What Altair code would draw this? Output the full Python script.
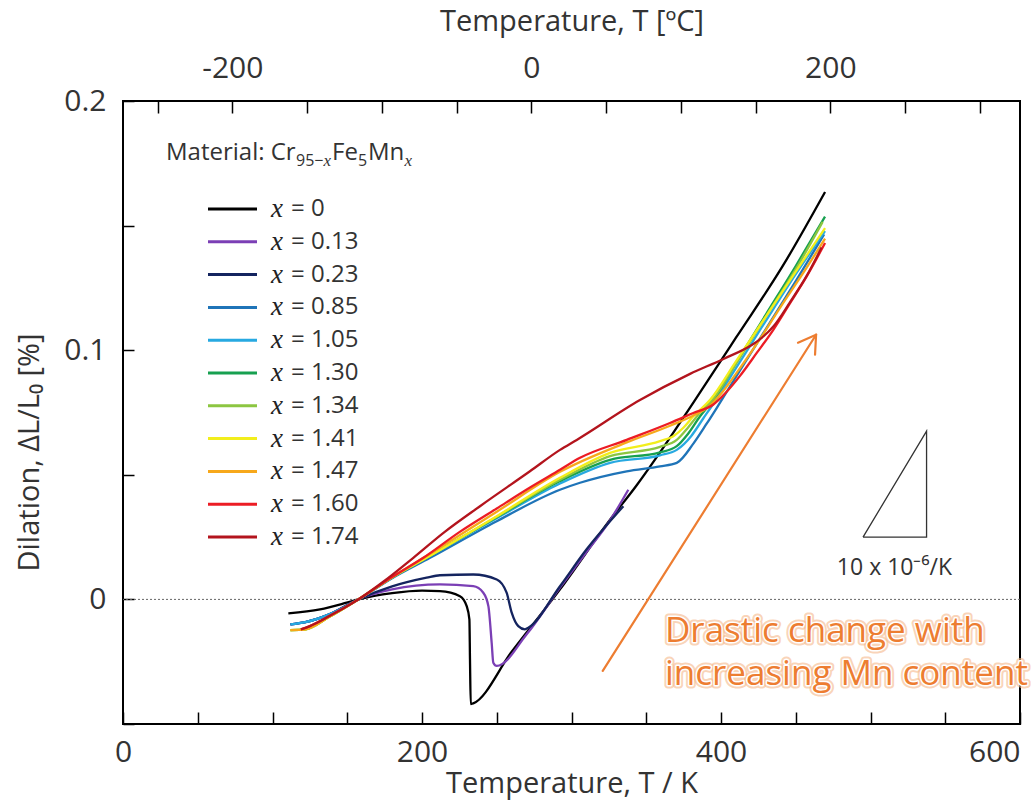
import altair as alt
import pandas as pd

# ---------------- data ----------------
series_labels = ["x = 0", "x = 0.13", "x = 0.23", "x = 0.85", "x = 1.05", "x = 1.30",
                 "x = 1.34", "x = 1.41", "x = 1.47", "x = 1.60", "x = 1.74"]
legend_rest = ["= 0", "= 0.13", "= 0.23", "= 0.85", "= 1.05", "= 1.30",
               "= 1.34", "= 1.41", "= 1.47", "= 1.60", "= 1.74"]
series_colors = ["#000000", "#7b3fb5", "#14245f", "#1f74b8", "#27a9e1", "#17a050",
                 "#8cc641", "#f2ee1c", "#f7a81b", "#ec1c24", "#b3141d"]

T_000 = [110.6, 131.8, 149.6, 157.4, 180, 200, 212, 225.4, 229.9, 231.7, 232.1, 232.6, 234.3,
         260, 292.3, 325.8, 343.6, 359.2, 381.5, 410, 441, 469.6]
D_000 = [-0.0056, -0.004, -0.0013, 0, 0.0025, 0.0035, 0.0033, 0.0013, -0.0027, -0.008, -0.024,
         -0.042, -0.0417, -0.021, 0.004, 0.032, 0.0458, 0.059, 0.079, 0.1050, 0.1335, 0.1635]

T_013 = [112, 122, 138, 157.4, 180, 212, 234.3, 241, 244.4, 246.6, 247.7, 250, 270, 292.3, 310, 325, 338]
D_013 = [-0.010, -0.0091, -0.006, 0, 0.004, 0.006, 0.0053, 0.0027, -0.0027, -0.0174, -0.0254,
         -0.0267, -0.014, 0.0047, 0.019, 0.031, 0.044]

T_023 = [112, 122, 138, 157.4, 180, 203.1, 212, 234.3, 250, 256.6, 260, 264.4, 268.9, 271.1, 292.3, 310, 334.7]
D_023 = [-0.010, -0.0091, -0.006, 0, 0.0052, 0.0087, 0.0097, 0.0100, 0.0080, 0.0027, -0.0053,
         -0.0107, -0.0120, -0.0114, 0.0053, 0.0200, 0.0374]

T_085 = [112, 122, 138, 157.4, 180, 205.4, 250, 292.3, 305.7, 336.9, 359.2, 370.4, 381.5, 390.4,
         397.1, 410, 430, 450, 469]
D_085 = [-0.010, -0.0091, -0.006, 0, 0.0085, 0.0167, 0.0314, 0.044, 0.0468, 0.0514, 0.0534, 0.0548,
         0.0625, 0.0705, 0.0768, 0.0893, 0.1085, 0.1277, 0.1465]

T_105 = [112, 122, 138, 157.4, 180, 203, 250, 292.3, 325.8, 359.2, 370.4, 380, 388, 396, 410, 430, 450, 469.6]
D_105 = [-0.010, -0.0091, -0.006, 0, 0.0088, 0.0167, 0.0326, 0.0465, 0.0548, 0.0578, 0.0600, 0.0655,
         0.0725, 0.0795, 0.0928, 0.1118, 0.1305, 0.1478]

T_130 = [112, 122, 138, 157.4, 180, 203, 250, 292.3, 325.8, 359.2, 370.4, 378, 386, 394.9, 410, 430, 450, 469.6]
D_130 = [-0.0123, -0.012, -0.007, 0, 0.0088, 0.0167, 0.0330, 0.0475, 0.0560, 0.0590, 0.0615, 0.0665,
         0.0735, 0.080, 0.0948, 0.1143, 0.1338, 0.1536]

T_134 = [112, 122, 138, 157.4, 180, 203, 250, 292.3, 325.8, 359.2, 370.4, 378, 386, 394.9, 410, 430, 450, 468]
D_134 = [-0.0123, -0.012, -0.007, 0, 0.0088, 0.0167, 0.0332, 0.0480, 0.0575, 0.0612, 0.0640, 0.0690,
         0.0750, 0.0805, 0.0945, 0.1135, 0.1325, 0.1515]

T_141 = [112, 122, 138, 157.4, 180, 203, 250, 292.3, 325.8, 359.2, 368.1, 375, 381.5, 392.6, 410, 430, 450, 469.6]
D_141 = [-0.0123, -0.012, -0.007, 0, 0.0089, 0.0167, 0.0334, 0.0488, 0.0588, 0.0635, 0.0655, 0.0690,
         0.0735, 0.080, 0.0955, 0.1135, 0.1315, 0.149]

T_147 = [112, 122, 138, 157.4, 180, 200, 250, 292.3, 336.9, 365.9, 381.5, 392, 400, 410, 425, 440, 455, 469.6]
D_147 = [-0.0123, -0.012, -0.007, 0, 0.009, 0.0163, 0.0352, 0.0512, 0.0630, 0.0697, 0.0738, 0.0775,
         0.0825, 0.0905, 0.1035, 0.1175, 0.131, 0.1448]

T_160 = [119, 125, 138, 157.4, 180, 200.9, 225, 250, 272, 292.3, 305.7, 336.9, 365.9, 381.5, 394.9,
         403, 412.7, 423.9, 435, 446.2, 457.3, 469.6]
D_160 = [-0.012, -0.0107, -0.0067, 0, 0.009, 0.0167, 0.027, 0.0365, 0.0448, 0.052, 0.0568, 0.064,
         0.0708, 0.0748, 0.0782, 0.0828, 0.0897, 0.0989, 0.1082, 0.1189, 0.1296, 0.143]

T_174 = [119, 125, 138, 157.4, 175, 194.2, 215, 238.8, 272.2, 292.3, 303.5, 345.8, 379.3, 401.6,
         421.6, 428.3, 435, 446.2, 457.3, 467.3]
D_174 = [-0.012, -0.0107, -0.0067, 0, 0.0075, 0.0167, 0.027, 0.0374, 0.0514, 0.060, 0.064, 0.0800,
         0.0905, 0.0965, 0.1025, 0.1055, 0.1095, 0.1193, 0.1298, 0.1412]

series_T = [T_000, T_013, T_023, T_085, T_105, T_130, T_134, T_141, T_147, T_160, T_174]
series_D = [D_000, D_013, D_023, D_085, D_105, D_130, D_134, D_141, D_147, D_160, D_174]

# axis ticks
kelvin_ticks = [0, 50, 100, 150, 200, 250, 300, 350, 400, 450, 500, 550, 600]
celsius_ticks = [-250, -200, -150, -100, -50, 0, 50, 100, 150, 200, 250, 300]
dil_ticks = [-0.05, 0, 0.05, 0.1, 0.15, 0.2]

# annotations (data coordinates)
tri_T = [495, 537.5, 537.5, 495]
tri_D = [0.025, 0.025, 0.0675, 0.025]
slope_text = "10 x 10\u207b\u2076/K"
slope_text_pos = (516, 0.0125)
arrow_T = [320.9, 463.6, 451.5, 462.9]      # tail, tip, arm1, arm2
arrow_D = [-0.0287, 0.1062, 0.1030, 0.0982]
note_lines = ["Drastic change with", "increasing Mn content"]
note_T = [362.5, 362.5]
note_D = [-0.0128, -0.0300]

FONT = "Open Sans"
TXT = "#333333"
ORANGE = "#ED7D31"

# ---------------- frames ----------------
rows = []
for lab, Ts, Ds in zip(series_labels, series_T, series_D):
    for t, d in zip(Ts, Ds):
        rows.append({"series": lab, "T": t, "D": d})
df = pd.DataFrame(rows)

xsc = alt.Scale(domain=[0, 600], nice=False, zero=False)
ysc = alt.Scale(domain=[-0.05, 0.2], nice=False, zero=False)

y_label_expr = ("abs(datum.value) < 1e-9 ? '0' : abs(datum.value - 0.1) < 1e-9 ? '0.1' : "
                "abs(datum.value - 0.2) < 1e-9 ? '0.2' : ''")

x_enc = alt.X("T:Q", scale=xsc, axis=alt.Axis(
    values=kelvin_ticks, labelExpr="datum.value % 200 == 0 ? datum.value + '' : ''",
    labelAlign={"condition": {"test": "datum.value == 600", "value": "right"}, "value": "center"},
    tickSize=12, offset=-12, domain=False, grid=False, tickColor="black", tickWidth=1.5,
    labelPadding=13, labelFontSize=30, labelFont=FONT, labelColor=TXT,
    title="Temperature, T / K", titleFontSize=29, titleFont=FONT, titleFontWeight="normal",
    titleColor=TXT, titlePadding=2, labelFlush=False))
y_enc = alt.Y("D:Q", scale=ysc, axis=alt.Axis(
    values=dil_ticks, labelExpr=y_label_expr,
    tickSize=11, offset=-11, domain=False, grid=False, tickColor="black", tickWidth=1.5,
    labelPadding=17, labelFontSize=30, labelFont=FONT, labelColor=TXT,
    title="Dilation, \u0394L/L\u2080 [%]", titleFontSize=29, titleFont=FONT,
    titleFontWeight="normal", titleColor=TXT, titleX=-105, titleY=351,
    titleBaseline="middle", labelFlush=False))

zero_line = alt.Chart(pd.DataFrame({"D": [0]})).mark_rule(
    color="#666666", strokeDash=[2, 2], strokeWidth=1).encode(y=alt.Y("D:Q", scale=ysc))

lines = alt.Chart(df).mark_line(strokeWidth=2.3, interpolate="monotone").encode(
    x=x_enc, y=y_enc,
    color=alt.Color("series:N", scale=alt.Scale(domain=series_labels, range=series_colors), legend=None),
)

tri_df = pd.DataFrame({"T": tri_T, "D": tri_D, "o": list(range(len(tri_T)))})
triangle = alt.Chart(tri_df).mark_line(color="#333333", strokeWidth=1.3).encode(
    x=alt.X("T:Q", scale=xsc), y=alt.Y("D:Q", scale=ysc), order="o:Q")
slope_lbl = alt.Chart(pd.DataFrame({"T": [slope_text_pos[0]], "D": [slope_text_pos[1]], "t": [slope_text]})).mark_text(
    font=FONT, fontSize=23, color=TXT, align="center", baseline="middle").encode(
    x=alt.X("T:Q", scale=xsc), y=alt.Y("D:Q", scale=ysc), text="t:N")

arrow_df = pd.DataFrame({
    "T": [arrow_T[0], arrow_T[2], arrow_T[3]],
    "D": [arrow_D[0], arrow_D[2], arrow_D[3]],
    "T2": [arrow_T[1]] * 3,
    "D2": [arrow_D[1]] * 3,
})
arrow = alt.Chart(arrow_df).mark_rule(color=ORANGE, strokeWidth=2.2, strokeCap="round").encode(
    x=alt.X("T:Q", scale=xsc), y=alt.Y("D:Q", scale=ysc), x2="T2:Q", y2="D2:Q")

note_df = pd.DataFrame({"T": note_T, "D": note_D, "t": note_lines})
note_glow = alt.Chart(note_df).mark_text(
    font=FONT, fontSize=35, align="left", baseline="middle", fill="#F6B88A",
    stroke="#F6B88A", strokeWidth=7, strokeOpacity=0.6, strokeJoin="round").encode(
    x=alt.X("T:Q", scale=xsc), y=alt.Y("D:Q", scale=ysc), text="t:N")
note_white = alt.Chart(note_df).mark_text(
    font=FONT, fontSize=35, align="left", baseline="middle", fill="white",
    stroke="white", strokeWidth=3, strokeJoin="round").encode(
    x=alt.X("T:Q", scale=xsc), y=alt.Y("D:Q", scale=ysc), text="t:N")
note_fill = alt.Chart(note_df).mark_text(
    font=FONT, fontSize=35, align="left", baseline="middle", color=ORANGE).encode(
    x=alt.X("T:Q", scale=xsc), y=alt.Y("D:Q", scale=ysc), text="t:N")

main = alt.layer(zero_line, lines, triangle, slope_lbl, arrow, note_glow, note_white, note_fill)

# top Celsius axis
cel = alt.Chart(pd.DataFrame({"C": celsius_ticks})).mark_point(opacity=0).encode(
    x=alt.X("C:Q", scale=alt.Scale(domain=[-273.15, 326.85], nice=False, zero=False),
            axis=alt.Axis(orient="top", values=celsius_ticks,
                          labelExpr="datum.value % 200 == 0 ? datum.value + '' : ''",
                          tickSize=12, offset=-12, domain=False, grid=False, tickColor="black",
                          tickWidth=1.5, labelPadding=18, labelFontSize=30, labelFont=FONT,
                          labelColor=TXT, title="Temperature, T [\u00baC]", titleFontSize=29,
                          titleFont=FONT, titleFontWeight="normal", titleColor=TXT,
                          titlePadding=17, labelFlush=False)))

# custom legend
leg_df = pd.DataFrame({"idx": list(range(len(series_labels))), "rest": legend_rest,
                       "col": series_colors})
ley = alt.Y("idx:Q", scale=alt.Scale(domain=[0, 10], range=[108, 436]), axis=None)
leg_line = alt.Chart(leg_df).mark_rule(strokeWidth=3).encode(
    x=alt.value(85), x2=alt.value(134), y=ley, color=alt.Color("col:N", scale=None))
leg_x = alt.Chart(leg_df).mark_text(font="Liberation Serif", fontStyle="italic", fontSize=27,
                                    align="left", baseline="middle", color="#222222").encode(
    x=alt.value(148), y=ley, text=alt.value("x"))
leg_txt = alt.Chart(leg_df).mark_text(font=FONT, fontSize=24, align="left", baseline="middle",
                                      color=TXT).encode(x=alt.value(168), y=ley, text="rest:N")
legend = alt.layer(leg_line, leg_x, leg_txt)

# "Material: Cr95-xFe5Mnx" heading made of pieces
one = pd.DataFrame({"a": [0]})
mat_pieces = [
    ("Material: Cr", FONT, 24, "normal", 43, 59),
    ("95\u2212", FONT, 16, "normal", 173, 65),
    ("x", "Liberation Serif", 17, "italic", 200.5, 65),
    ("Fe", FONT, 24, "normal", 209, 59),
    ("5", FONT, 16, "normal", 235, 65),
    ("Mn", FONT, 24, "normal", 245, 59),
    ("x", "Liberation Serif", 17, "italic", 281.5, 65),
]
mat_layers = [
    alt.Chart(one).mark_text(font=f, fontSize=s, fontStyle=st, align="left",
                             baseline="alphabetic", color=TXT).encode(
        x=alt.value(px), y=alt.value(py), text=alt.value(t))
    for (t, f, s, st, px, py) in mat_pieces
]

chart = alt.layer(main, cel, legend, *mat_layers).resolve_scale(
    x="independent", y="independent"
).properties(
    width=897, height=623,
    padding={"left": 123, "top": 101, "right": 12, "bottom": 83},
    autosize=alt.AutoSizeParams(type="none"),
    background="white",
).configure_view(stroke="black", strokeWidth=2)

chart.save("out.html", embed_options={"renderer": "svg", "actions": False})
